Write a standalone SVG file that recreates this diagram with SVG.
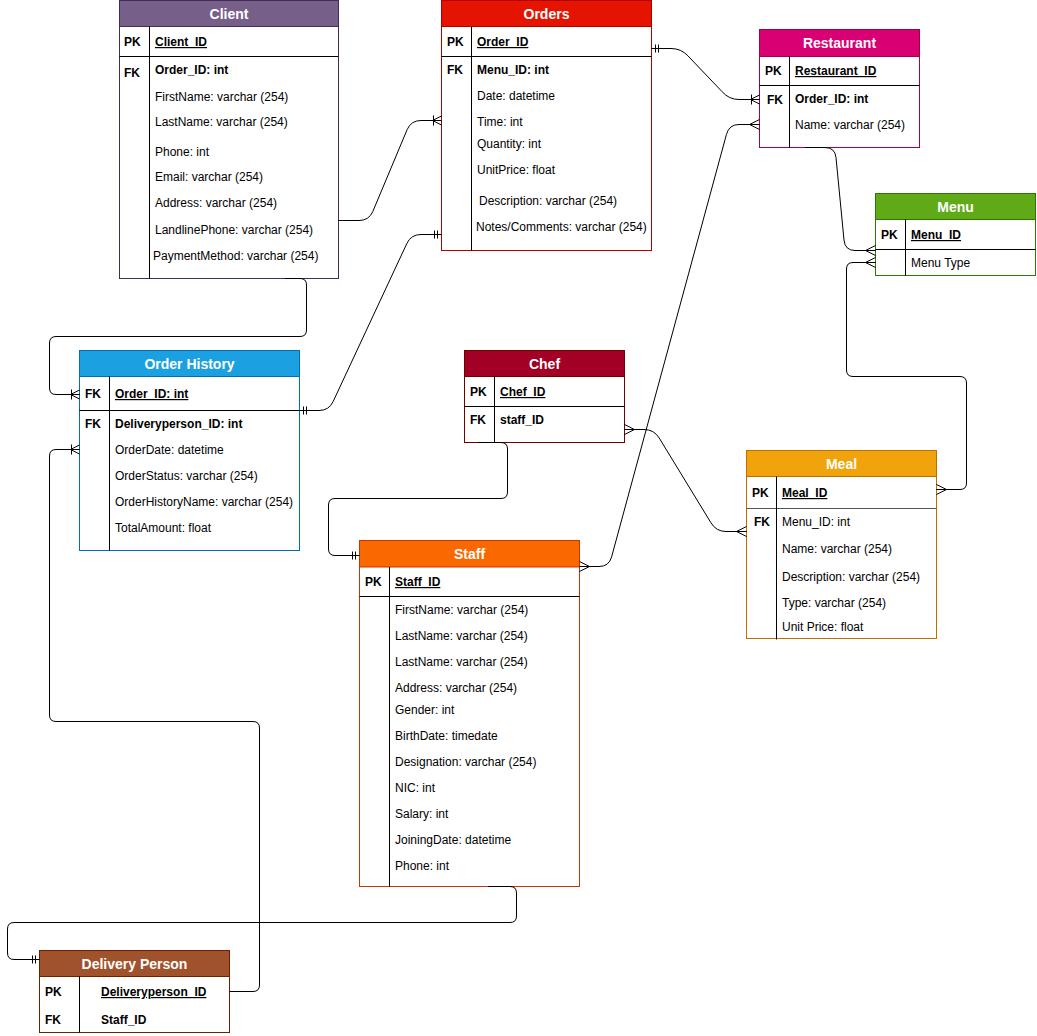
<svg xmlns="http://www.w3.org/2000/svg" width="1037" height="1036" viewBox="0 0 1037 1036">
  <style>
    text { font-family: "Liberation Sans", Arial, Helvetica, sans-serif; font-size: 12px; fill: #000; }
    text.title { font-size: 14px; font-weight: bold; fill: #fff; text-anchor: middle; }
    text.key { font-weight: bold; }
    text.pk { font-weight: bold; text-decoration: underline; }
    text.b { font-weight: bold; }
    line.sep { stroke: #000; stroke-width: 1; }
    .edge { fill: none; stroke: #000; stroke-width: 1; }
    .mk { fill: none; stroke: #000; stroke-width: 1; }
  </style>
  <defs>
    <!-- crow's foot (many) -->
    <marker id="mMany" markerUnits="userSpaceOnUse" orient="auto-start-reverse" refX="0" refY="0" markerWidth="1" markerHeight="1" overflow="visible">
      <path class="mk" d="M-10,0 L0,-5 M-10,0 L0,5 M-10,0 H0"/>
    </marker>
    <!-- one-to-many: bar + crow's foot -->
    <marker id="mOneMany" markerUnits="userSpaceOnUse" orient="auto-start-reverse" refX="0" refY="0" markerWidth="1" markerHeight="1" overflow="visible">
      <path class="mk" d="M-9,0 L0,-4.5 M-9,0 L0,4.5 M-9,0 H0 M-8,-5 V5"/>
    </marker>
    <!-- mandatory one: double bar -->
    <marker id="mOne" markerUnits="userSpaceOnUse" orient="auto-start-reverse" refX="0" refY="0" markerWidth="1" markerHeight="1" overflow="visible">
      <path class="mk" d="M-4,-4 V4 M-7,-4 V4"/>
    </marker>
  </defs>

  <rect x="0" y="0" width="1037" height="1036" fill="#fff"/>

  <!-- Client -->
  <g id="client">
    <rect x="119.5" y="0.5" width="219" height="278" fill="#fff" stroke="#432d57"/>
    <rect x="119.5" y="0.5" width="219" height="26" fill="#76608a" stroke="#432d57"/>
    <text class="title" x="229" y="19">Client</text>
    <line class="sep" x1="119.5" y1="56.5" x2="338.5" y2="56.5"/>
    <line class="sep" x1="149.5" y1="26.5" x2="149.5" y2="278.5"/>
    <text class="key" x="124" y="46">PK</text>
    <text class="pk" x="155" y="46">Client_ID</text>
    <text class="key" x="124" y="77">FK</text>
    <text class="b" x="155" y="74">Order_ID: int</text>
    <text x="155" y="101">FirstName: varchar (254)</text>
    <text x="155" y="126">LastName: varchar (254)</text>
    <text x="155" y="156">Phone: int</text>
    <text x="155" y="181">Email: varchar (254)</text>
    <text x="155" y="207">Address: varchar (254)</text>
    <text x="155" y="234">LandlinePhone: varchar (254)</text>
    <text x="153" y="260">PaymentMethod: varchar (254)</text>
  </g>

  <!-- Orders -->
  <g id="orders">
    <rect x="441.5" y="0.5" width="210" height="250" fill="#fff" stroke="#b20000"/>
    <rect x="441.5" y="0.5" width="210" height="26" fill="#e51400" stroke="#b20000"/>
    <text class="title" x="546.5" y="19">Orders</text>
    <line class="sep" x1="441.5" y1="56.5" x2="651.5" y2="56.5"/>
    <line class="sep" x1="471.5" y1="26.5" x2="471.5" y2="250.5"/>
    <text class="key" x="447" y="46">PK</text>
    <text class="pk" x="477" y="46">Order_ID</text>
    <text class="key" x="447" y="74">FK</text>
    <text class="b" x="477" y="74">Menu_ID: int</text>
    <text x="477" y="100">Date: datetime</text>
    <text x="477" y="126">Time: int</text>
    <text x="477" y="148">Quantity: int</text>
    <text x="477" y="174">UnitPrice: float</text>
    <text x="479" y="205">Description: varchar (254)</text>
    <text x="476" y="231">Notes/Comments: varchar (254)</text>
  </g>

  <!-- Restaurant -->
  <g id="restaurant">
    <rect x="759.5" y="29.5" width="160" height="118" fill="#fff" stroke="#a50040"/>
    <rect x="759.5" y="29.5" width="160" height="27" fill="#d80073" stroke="#a50040"/>
    <text class="title" x="839.5" y="48">Restaurant</text>
    <line class="sep" x1="759.5" y1="85.5" x2="919.5" y2="85.5"/>
    <line class="sep" x1="789.5" y1="56.5" x2="789.5" y2="147.5"/>
    <text class="key" x="765" y="75">PK</text>
    <text class="pk" x="795" y="75">Restaurant_ID</text>
    <text class="key" x="767" y="104">FK</text>
    <text class="b" x="795" y="103">Order_ID: int</text>
    <text x="795" y="129">Name: varchar (254)</text>
  </g>

  <!-- Menu -->
  <g id="menu">
    <rect x="875.5" y="193.5" width="160" height="82" fill="#fff" stroke="#2d7600"/>
    <rect x="875.5" y="193.5" width="160" height="26" fill="#60a917" stroke="#2d7600"/>
    <text class="title" x="955.5" y="212">Menu</text>
    <line class="sep" x1="875.5" y1="249.5" x2="1035.5" y2="249.5"/>
    <line class="sep" x1="905.5" y1="219.5" x2="905.5" y2="275.5"/>
    <text class="key" x="881" y="239">PK</text>
    <text class="pk" x="911" y="239">Menu_ID</text>
    <text x="911" y="267">Menu Type</text>
  </g>

  <!-- Order History -->
  <g id="order-history">
    <rect x="79.5" y="350.5" width="220" height="200" fill="#fff" stroke="#006eaf"/>
    <rect x="79.5" y="350.5" width="220" height="26" fill="#1ba1e2" stroke="#006eaf"/>
    <text class="title" x="189.5" y="369">Order History</text>
    <line class="sep" x1="79.5" y1="410.5" x2="299.5" y2="410.5"/>
    <line class="sep" x1="109.5" y1="376.5" x2="109.5" y2="550.5"/>
    <text class="key" x="85" y="398">FK</text>
    <text class="pk" x="115" y="398">Order_ID: int</text>
    <text class="key" x="85" y="428">FK</text>
    <text class="b" x="115" y="428">Deliveryperson_ID: int</text>
    <text x="115" y="454">OrderDate: datetime</text>
    <text x="115" y="480">OrderStatus: varchar (254)</text>
    <text x="115" y="506">OrderHistoryName: varchar (254)</text>
    <text x="115" y="532">TotalAmount: float</text>
  </g>

  <!-- Chef -->
  <g id="chef">
    <rect x="464.5" y="350.5" width="160" height="92" fill="#fff" stroke="#6f0000"/>
    <rect x="464.5" y="350.5" width="160" height="26" fill="#a20025" stroke="#6f0000"/>
    <text class="title" x="544.5" y="369">Chef</text>
    <line class="sep" x1="464.5" y1="406.5" x2="624.5" y2="406.5"/>
    <line class="sep" x1="494.5" y1="376.5" x2="494.5" y2="442.5"/>
    <text class="key" x="470" y="396">PK</text>
    <text class="pk" x="500" y="396">Chef_ID</text>
    <text class="key" x="470" y="424">FK</text>
    <text class="b" x="500" y="424">staff_ID</text>
  </g>

  <!-- Staff -->
  <g id="staff">
    <rect x="359.5" y="540.5" width="220" height="346" fill="#fff" stroke="#c73500"/>
    <rect x="359.5" y="540.5" width="220" height="26.5" fill="#fa6800" stroke="#c73500"/>
    <text class="title" x="469.5" y="559">Staff</text>
    <line class="sep" x1="359.5" y1="596.5" x2="579.5" y2="596.5"/>
    <line class="sep" x1="389.5" y1="567" x2="389.5" y2="886.5"/>
    <text class="key" x="365" y="586">PK</text>
    <text class="pk" x="395" y="586">Staff_ID</text>
    <text x="395" y="614">FirstName: varchar (254)</text>
    <text x="395" y="640">LastName: varchar (254)</text>
    <text x="395" y="666">LastName: varchar (254)</text>
    <text x="395" y="692">Address: varchar (254)</text>
    <text x="395" y="714">Gender: int</text>
    <text x="395" y="740">BirthDate: timedate</text>
    <text x="395" y="766">Designation: varchar (254)</text>
    <text x="395" y="792">NIC: int</text>
    <text x="395" y="818">Salary: int</text>
    <text x="395" y="844">JoiningDate: datetime</text>
    <text x="395" y="870">Phone: int</text>
  </g>

  <!-- Meal -->
  <g id="meal">
    <rect x="746.5" y="450.5" width="190" height="188" fill="#fff" stroke="#bd7000"/>
    <rect x="746.5" y="450.5" width="190" height="26" fill="#f0a30a" stroke="#bd7000"/>
    <text class="title" x="841.5" y="469">Meal</text>
    <line class="sep" x1="746.5" y1="508.5" x2="936.5" y2="508.5" style="stroke:#555"/>
    <line class="sep" x1="776.5" y1="476.5" x2="776.5" y2="639.5"/>
    <text class="key" x="752" y="497">PK</text>
    <text class="pk" x="782" y="497">Meal_ID</text>
    <text class="key" x="754" y="526">FK</text>
    <text x="782" y="526">Menu_ID: int</text>
    <text x="782" y="553">Name: varchar (254)</text>
    <text x="782" y="581">Description: varchar (254)</text>
    <text x="782" y="607">Type: varchar (254)</text>
    <text x="782" y="631">Unit Price: float</text>
  </g>

  <!-- Delivery Person -->
  <g id="delivery-person">
    <rect x="39.5" y="950.5" width="190" height="82" fill="#fff" stroke="#6d1f00"/>
    <rect x="39.5" y="950.5" width="190" height="26" fill="#a0522d" stroke="#6d1f00"/>
    <text class="title" x="134.5" y="969">Delivery Person</text>
    <line class="sep" x1="79.5" y1="976.5" x2="79.5" y2="1032.5"/>
    <text class="key" x="45" y="996">PK</text>
    <text class="pk" x="101" y="996">Deliveryperson_ID</text>
    <text class="key" x="45" y="1024">FK</text>
    <text class="b" x="101" y="1024">Staff_ID</text>
  </g>

  <!-- Relationships -->
  <g id="connectors">
    <!-- Orders -> Restaurant -->
    <path class="edge" d="M651.5,48.5 H671 Q681,48.5 687.9,55.8 L722.1,91.7 Q729,99.5 739,99.5 H759.5" marker-start="url(#mOne)" marker-end="url(#mOneMany)"/>
    <!-- Client -> Orders -->
    <path class="edge" d="M338.5,220.5 H359 Q369,220.5 372.9,211.3 L407.1,129.7 Q411,120.5 421,120.5 H441.5" marker-end="url(#mOneMany)"/>
    <!-- Order History -> Orders -->
    <path class="edge" d="M299.5,410.5 H319 Q329,410.5 333.2,401.4 L406.8,243.6 Q411,234.5 421,234.5 H441.5" marker-start="url(#mOne)" marker-end="url(#mOne)"/>
    <!-- Client -> Order History -->
    <path class="edge" d="M285,278.5 H300 Q306.5,278.5 306.5,285 V330 Q306.5,336.5 300,336.5 H56 Q49.5,336.5 49.5,343 V388 Q49.5,394.5 56,394.5 H79.5" marker-end="url(#mOneMany)"/>
    <!-- Order History -> Delivery Person -->
    <path class="edge" d="M79.5,449.5 H56 Q49.5,449.5 49.5,456 V715 Q49.5,721.5 56,721.5 H253 Q259.5,721.5 259.5,728 V985 Q259.5,991.5 253,991.5 H229.5" marker-start="url(#mOneMany)"/>
    <!-- Staff -> Delivery Person -->
    <path class="edge" d="M488,886.5 H510 Q516.5,886.5 516.5,893 V916 Q516.5,922.5 510,922.5 H14 Q7.5,922.5 7.5,929 V953 Q7.5,959.5 14,959.5 H39.5" marker-end="url(#mOne)"/>
    <!-- Chef -> Staff -->
    <path class="edge" d="M478,442.5 H501 Q507.5,442.5 507.5,449 V492 Q507.5,498.5 501,498.5 H335 Q328.5,498.5 328.5,505 V549 Q328.5,555.5 335,555.5 H359.5" marker-end="url(#mOne)"/>
    <!-- Chef -> Meal -->
    <path class="edge" d="M624.5,429.5 H644 Q654,429.5 659.2,438 L710.8,522.5 Q716,531.5 726,531.5 H746.5" marker-start="url(#mMany)" marker-end="url(#mMany)"/>
    <!-- Staff -> Restaurant -->
    <path class="edge" d="M579.5,566.5 H599 Q609,566.5 611.6,556.9 L726.4,134.6 Q729,124.5 739,124.5 H759.5" marker-start="url(#mMany)" marker-end="url(#mMany)"/>
    <!-- Restaurant -> Menu -->
    <path class="edge" d="M805,147.5 H825 Q835,147.5 836,157.5 L844,240 Q845,250.5 855,250.5 H875.5" marker-end="url(#mMany)"/>
    <!-- Menu -> Meal -->
    <path class="edge" d="M875.5,262.5 H853 Q846.5,262.5 846.5,269 V370 Q846.5,376.5 853,376.5 H960 Q966.5,376.5 966.5,383 V483 Q966.5,489.5 960,489.5 H936.5" marker-start="url(#mMany)" marker-end="url(#mMany)"/>
  </g>
</svg>
